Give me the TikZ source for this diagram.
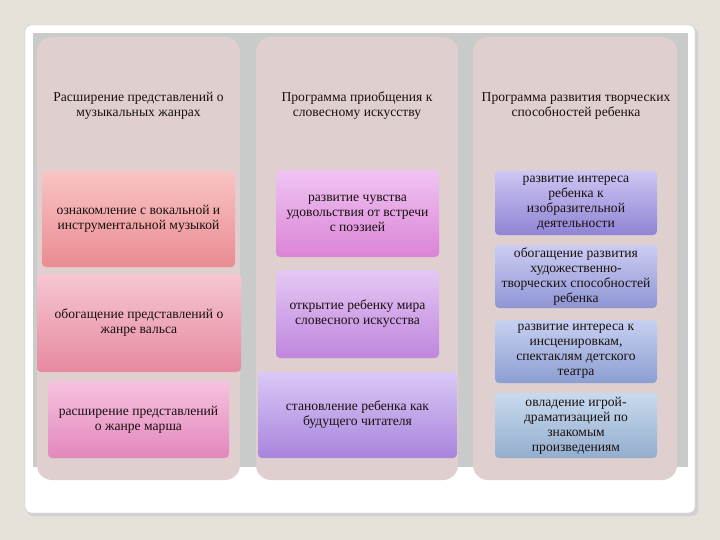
\documentclass[tikz,border=0pt]{standalone}
\usepackage{fontspec}
\setmainfont{Liberation Serif}
\definecolor{bgc}{HTML}{E6E1D9}
\definecolor{panelgray}{HTML}{C9CBCB}
\definecolor{colfill}{HTML}{DFD0CF}
\definecolor{cardline}{HTML}{C4C4C4}
\definecolor{txt}{HTML}{1A1010}
\definecolor{aT}{HTML}{F8C4C4}\definecolor{aB}{HTML}{EA8C92}
\definecolor{bT}{HTML}{F6C6D2}\definecolor{bB}{HTML}{E68AA0}
\definecolor{cT}{HTML}{F6C2DE}\definecolor{cB}{HTML}{E287BC}
\definecolor{dT}{HTML}{F0C4F2}\definecolor{dB}{HTML}{DA84D6}
\definecolor{eT}{HTML}{E4C8F4}\definecolor{eB}{HTML}{BF86DE}
\definecolor{fT}{HTML}{DAC8F6}\definecolor{fB}{HTML}{A884DC}
\definecolor{gT}{HTML}{CEC6F4}\definecolor{gB}{HTML}{8E84D4}
\definecolor{hT}{HTML}{CCCDF2}\definecolor{hB}{HTML}{8E95D4}
\definecolor{iT}{HTML}{C6D0F0}\definecolor{iB}{HTML}{8C9ED2}
\definecolor{jT}{HTML}{C8DAEE}\definecolor{jB}{HTML}{94AECE}
\tikzset{
  box/.style 2 args={rounded corners=4pt, top color=#1, bottom color=#2, draw=none,
    inner sep=0pt, align=center, text=txt, font=\fontsize{13.6}{15}\selectfont},
  head/.style={align=center, text=txt, font=\fontsize{13.6}{15}\selectfont},
  column/.style={fill=colfill, rounded corners=15pt}
}
\begin{document}
\begin{tikzpicture}[x=1pt,y=-1pt]
\useasboundingbox (0,0) rectangle (720,540);
\fill[bgc] (0,0) rectangle (720,540);
% card shadow and card
\fill[black!18, rounded corners=6pt] (27,28) rectangle (698,516);
\draw[fill=white, draw=cardline, rounded corners=6pt] (25,25) rectangle (695,513);
% gray panel
\fill[panelgray] (33,33) rectangle (688,467);
% columns
\fill[column] (37,37) rectangle (240,480);
\fill[column] (256,37) rectangle (458,480);
\fill[column] (473,37) rectangle (677,480);
% headers
\node[head] (h1) at (138.5,106) {Расширение представлений о\\музыкальных жанрах};
\node[head] (h2) at (357,106) {Программа приобщения к\\словесному искусству};
\node[head] (h3) at (576,106) {Программа развития творческих\\способностей ребенка};
% column 1
\node[box={aT}{aB}, minimum width=193pt, minimum height=96pt] (a1) at (138.5,219) {ознакомление с вокальной и\\инструментальной музыкой};
\node[box={bT}{bB}, minimum width=204pt, minimum height=98pt] (a2) at (139,323) {обогащение представлений о\\жанре вальса};
\node[box={cT}{cB}, minimum width=181pt, minimum height=77pt] (a3) at (138.5,419.5) {расширение представлений\\о жанре марша};
% column 2
\node[box={dT}{dB}, minimum width=163pt, minimum height=87pt] (b1) at (357.5,213.5) {развитие чувства\\удовольствия от встречи\\с поэзией};
\node[box={eT}{eB}, minimum width=163pt, minimum height=88pt] (b2) at (357.5,314) {открытие ребенку мира\\словесного искусства};
\node[box={fT}{fB}, minimum width=199pt, minimum height=86pt] (b3) at (357.5,415) {становление ребенка как\\будущего читателя};
% column 3
\node[box={gT}{gB}, minimum width=162pt, minimum height=64pt] (c1) at (576,203) {развитие интереса\\ребенка к\\изобразительной\\деятельности};
\node[box={hT}{hB}, minimum width=162pt, minimum height=63pt] (c2) at (576,276.5) {обогащение развития\\художественно-\\творческих способностей\\ребенка};
\node[box={iT}{iB}, minimum width=162pt, minimum height=63pt] (c3) at (576,351.5) {развитие интереса к\\инсценировкам,\\спектаклям детского\\театра};
\node[box={jT}{jB}, minimum width=162pt, minimum height=65pt] (c4) at (576,425.5) {овладение игрой-\\драматизацией по\\знакомым\\произведениям};
\end{tikzpicture}
\end{document}
